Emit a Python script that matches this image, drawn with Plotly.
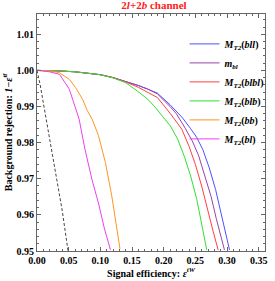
import plotly.graph_objects as go

# ---- data ----
bll_x = [0, 0.02, 0.04, 0.06, 0.08, 0.10, 0.12, 0.14, 0.16, 0.175, 0.19, 0.21, 0.23, 0.242, 0.252, 0.262, 0.272, 0.282, 0.29, 0.297, 0.304]
bll_y = [1.0, 0.99995, 0.9998, 0.9996, 0.9993, 0.9988, 0.9980, 0.9970, 0.9958, 0.9948, 0.9937, 0.9905, 0.9868, 0.9840, 0.9815, 0.9780, 0.9730, 0.9670, 0.9610, 0.9555, 0.9503]

mbl_x = [0, 0.02, 0.04, 0.06, 0.08, 0.10, 0.12, 0.14, 0.16, 0.175, 0.19, 0.21, 0.22, 0.234, 0.245, 0.255, 0.265, 0.275, 0.283, 0.29, 0.296]
mbl_y = [1.0, 0.99995, 0.9998, 0.9996, 0.9993, 0.9988, 0.9980, 0.9970, 0.9958, 0.9948, 0.9935, 0.9900, 0.9880, 0.9840, 0.9805, 0.9765, 0.9710, 0.9650, 0.9590, 0.9545, 0.9503]

blbl_x = [0, 0.02, 0.04, 0.06, 0.08, 0.10, 0.12, 0.14, 0.16, 0.175, 0.19, 0.2107, 0.2287, 0.24, 0.25, 0.26, 0.27, 0.278, 0.286]
blbl_y = [1.0, 0.99995, 0.9998, 0.9996, 0.9993, 0.9988, 0.9980, 0.9968, 0.9953, 0.9940, 0.9925, 0.9880, 0.9837, 0.9790, 0.9740, 0.9680, 0.9615, 0.9555, 0.9503]

blb_x = [0, 0.02, 0.04, 0.06, 0.08, 0.10, 0.12, 0.14, 0.159, 0.175, 0.185, 0.2107, 0.222, 0.233, 0.243, 0.252, 0.26, 0.268]
blb_y = [1.0, 0.99995, 0.9998, 0.9996, 0.9993, 0.9988, 0.9979, 0.9966, 0.9942, 0.9920, 0.9901, 0.9846, 0.9810, 0.9760, 0.9705, 0.9645, 0.9575, 0.9503]

bb_x = [0, 0.02, 0.035, 0.051, 0.061, 0.072, 0.079, 0.087, 0.097, 0.108, 0.118, 0.126, 0.131]
bb_y = [1.0, 0.9998, 0.9994, 0.9975, 0.9952, 0.9920, 0.9890, 0.9865, 0.9820, 0.9745, 0.9653, 0.9570, 0.9506]

bl_x = [0, 0.02, 0.0355, 0.051, 0.0665, 0.0757, 0.0866, 0.0974, 0.1066, 0.116]
bl_y = [1.0, 0.9996, 0.9989, 0.9948, 0.9865, 0.9782, 0.9699, 0.9630, 0.9561, 0.9503]

dash_x = [0, 0.005, 0.01, 0.02, 0.03, 0.04, 0.049]
dash_y = [1.0, 0.996, 0.991, 0.981, 0.971, 0.961, 0.950]

x_ticks = [0, 0.05, 0.1, 0.15, 0.2, 0.25, 0.3, 0.35]
x_labels = ["0.00", "0.05", "0.10", "0.15", "0.20", "0.25", "0.30", "0.35"]
y_ticks = [0.95, 0.96, 0.97, 0.98, 0.99, 1.0, 1.01]
y_labels = ["0.95", "0.96", "0.97", "0.98", "0.99", "1.00", "1.01"]

series = [
    ("<b><i>M</i><sub><i>T2</i></sub>(<i>bll</i>)</b>", bll_x, bll_y, "#5050ff"),
    ("<b><i>m</i><sub><i>bl</i></sub></b>", mbl_x, mbl_y, "#9944aa"),
    ("<b><i>M</i><sub><i>T2</i></sub>(<i>blbl</i>)</b>", blbl_x, blbl_y, "#ff4040"),
    ("<b><i>M</i><sub><i>T2</i></sub>(<i>blb</i>)</b>", blb_x, blb_y, "#30e030"),
    ("<b><i>M</i><sub><i>T2</i></sub>(<i>bb</i>)</b>", bb_x, bb_y, "#ff9520"),
    ("<b><i>M</i><sub><i>T2</i></sub>(<i>bl</i>)</b>", bl_x, bl_y, "#ee40ee"),
]

serif = "Liberation Serif, Times New Roman, serif"

fig = go.Figure()
for name, xs, ys, col in series:
    fig.add_trace(go.Scatter(x=xs, y=ys, mode="lines", name=name,
                             line=dict(color=col, width=1)))
fig.add_trace(go.Scatter(x=dash_x, y=dash_y, mode="lines", showlegend=False,
                         line=dict(color="#444444", width=1, dash="3px,2px")))

axis_common = dict(showline=True, linecolor="#666666", linewidth=1, mirror="ticks",
                   ticks="inside", ticklen=4, tickcolor="#666666", showgrid=False,
                   zeroline=False, tickfont=dict(family=serif, size=10, color="black"))

fig.update_layout(
    width=275, height=281,
    margin=dict(l=37, r=5, t=14, b=30),
    paper_bgcolor="white", plot_bgcolor="white",
    title=dict(text="<b>2<i>l</i>+2<i>b</i> channel</b>", x=0.56, xanchor="center",
               y=0.995, yanchor="top",
               font=dict(family=serif, size=11, color="#ff2020")),
    xaxis=dict(range=[0, 0.36], tickvals=x_ticks,
               ticktext=["<b>%s</b>" % t for t in x_labels],
               minor=dict(dtick=0.01, ticks="inside", ticklen=2, tickcolor="#666666"),
               title=dict(text="<b>Signal efficiency: <i>ε</i><sup><i>tW</i></sup></b>",
                          font=dict(family=serif, size=10, color="black"), standoff=4),
               **axis_common),
    yaxis=dict(range=[0.95, 1.0156], tickvals=y_ticks,
               ticktext=["<b>%s</b>" % t for t in y_labels],
               minor=dict(dtick=0.002, ticks="inside", ticklen=2, tickcolor="#666666"),
               title=dict(text="<b>Background rejection: <i>1−ε</i><sup><i>tt̄</i></sup></b>",
                          font=dict(family=serif, size=10, color="black"), standoff=2),
               **axis_common),
    legend=dict(x=1.02, xanchor="right", y=0.935, yanchor="top",
                bgcolor="rgba(0,0,0,0)", tracegroupgap=0,
                font=dict(family=serif, size=10, color="black"),
                itemwidth=30),
    showlegend=True,
)

fig.write_html("out.html", config={"displayModeBar": False},
               post_script="document.body.style.margin='0';document.body.style.overflow='hidden';")
